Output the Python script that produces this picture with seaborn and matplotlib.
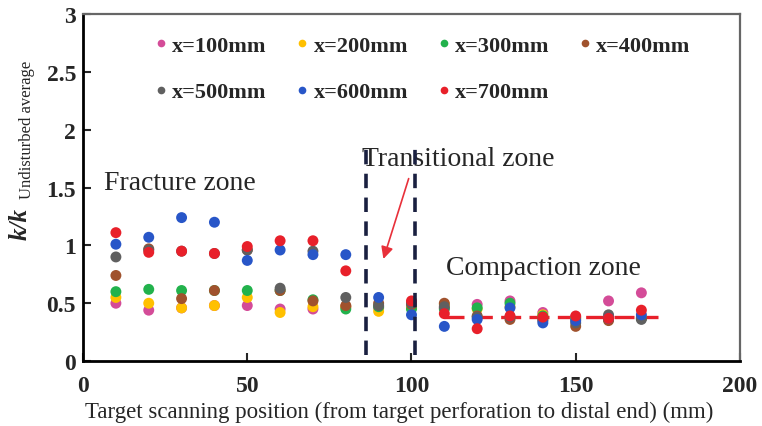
import numpy as np
import pandas as pd
import matplotlib
matplotlib.use('Agg')
import matplotlib.pyplot as plt
import seaborn as sns

# scanning positions (mm)
positions = [10, 20, 30, 40, 50, 60, 70, 80, 90, 100, 110, 120, 130, 140, 150, 160, 170]

# k / k_undisturbed average for each section
x100 = [0.50, 0.44, 0.46, 0.48, 0.48, 0.45, 0.45, 0.47, 0.46, 0.47, 0.46, 0.49, 0.52, 0.42, 0.38, 0.52, 0.59]
x200 = [0.55, 0.50, 0.46, 0.48, 0.55, 0.42, 0.47, 0.47, 0.43, 0.46, 0.49, 0.45, 0.47, 0.40, 0.36, 0.37, 0.38]
x300 = [0.60, 0.62, 0.61, 0.61, 0.61, 0.61, 0.53, 0.45, 0.47, 0.45, 0.45, 0.46, 0.50, 0.39, 0.37, 0.36, 0.37]
x400 = [0.74, 0.97, 0.54, 0.61, 0.96, 0.61, 0.52, 0.48, 0.50, 0.49, 0.50, 0.39, 0.36, 0.36, 0.30, 0.35, 0.37]
x500 = [0.90, 0.96, 0.95, 0.93, 0.96, 0.63, 0.95, 0.55, 0.48, 0.50, 0.47, 0.38, 0.38, 0.35, 0.33, 0.40, 0.36]
x600 = [1.01, 1.07, 1.24, 1.20, 0.87, 0.96, 0.92, 0.92, 0.55, 0.40, 0.30, 0.36, 0.46, 0.33, 0.35, 0.37, 0.40]
x700 = [1.11, 0.94, 0.95, 0.93, 0.99, 1.04, 1.04, 0.78, np.nan, 0.52, 0.41, 0.28, 0.39, 0.38, 0.39, 0.37, 0.44]

series_names = ['x=100mm', 'x=200mm', 'x=300mm', 'x=400mm', 'x=500mm', 'x=600mm', 'x=700mm']
series_values = [x100, x200, x300, x400, x500, x600, x700]
colors = ['#D44C98', '#FFC000', '#22B24C', '#A0522D', '#606060', '#2856C8', '#E8202A']

# zone boundaries and compaction trend level
boundaries = [86, 101]
compaction_x = [110, 175]
compaction_level = 0.38

rows = []
for name, vals in zip(series_names, series_values):
    for p, v in zip(positions, vals):
        rows.append({'pos': p, 'ratio': v, 'section': name})
data = pd.DataFrame(rows).dropna()

sns.set_style('white')
plt.rcParams['font.family'] = ['Liberation Serif', 'DejaVu Serif']

fig = plt.figure(figsize=(7.62, 4.27), dpi=100)
ax = fig.add_axes([0.109, 0.152, 0.862, 0.813])

sns.scatterplot(data=data, x='pos', y='ratio', hue='section',
                hue_order=series_names, palette=colors, s=62,
                linewidth=0, ax=ax, zorder=3)

# zone boundaries
for b in boundaries:
    ax.plot([b, b], [0.05, 1.85], color='#1A2040', lw=2.6,
            dashes=(4, 2.6), zorder=4)

# compaction zone trend
ax.plot(compaction_x, [compaction_level, compaction_level], color='#E8202A',
        lw=2.4, dashes=(6, 2.5), zorder=2)

# annotations
ax.text(6.5, 1.54, 'Fracture zone', fontsize=20, va='center', ha='left')
ax.text(85, 1.75, 'Transitional zone', fontsize=20, va='center', ha='left')
ax.text(110.5, 0.81, 'Compaction zone', fontsize=20, va='center', ha='left')
ax.annotate('', xy=(91.2, 0.86), xytext=(99.4, 1.6),
            arrowprops=dict(arrowstyle='-|>', color='#E8303A', lw=1.2,
                            mutation_scale=18), zorder=5)

ax.set_xlim(0, 200)
ax.set_ylim(0, 3)
ax.set_xticks([0, 50, 100, 150, 200])
ax.set_yticks([0, 0.5, 1, 1.5, 2, 2.5, 3])
ax.set_yticklabels(['0', '0.5', '1', '1.5', '2', '2.5', '3'])
ax.tick_params(direction='in', length=6, width=1.5, labelsize=17,
               left=True, bottom=True)
ax.tick_params(axis='x', pad=10)
ax.tick_params(axis='y', pad=5)
for lab in ax.get_xticklabels() + ax.get_yticklabels():
    lab.set_fontweight('bold')

for side in ['left', 'bottom']:
    ax.spines[side].set_color('black')
    ax.spines[side].set_linewidth(2)
for side in ['top', 'right']:
    ax.spines[side].set_color('#666666')
    ax.spines[side].set_linewidth(1.6)

ax.set_xlabel('Target scanning position (from target perforation to distal end) (mm)',
              fontsize=16.5)
ax.xaxis.set_label_coords(0.482, -0.113)
ax.set_ylabel('')
# y label: bold italic k/k with a plain subscript
fig.text(20 / 762, (427 - 240) / 427, 'k/k', rotation=90, fontsize=18,
         fontweight='bold', fontstyle='italic', ha='center', va='bottom')
fig.text(27 / 762, (427 - 199) / 427, 'Undisturbed average', rotation=90,
         fontsize=12, ha='center', va='bottom')

# legend laid out row by row: 4 columns, 2 rows
handles, labels = ax.get_legend_handles_labels()
order = [0, 4, 1, 5, 2, 6, 3]
leg = ax.legend([handles[i] for i in order], [labels[i] for i in order],
                ncol=4, frameon=False, loc='upper left',
                bbox_to_anchor=(0.075, 0.995), markerscale=0.7,
                handletextpad=0.1, columnspacing=1.2, labelspacing=1.15,
                handlelength=0.8, prop={'size': 16, 'weight': 'bold'})

fig.savefig('out.png', dpi=100)
